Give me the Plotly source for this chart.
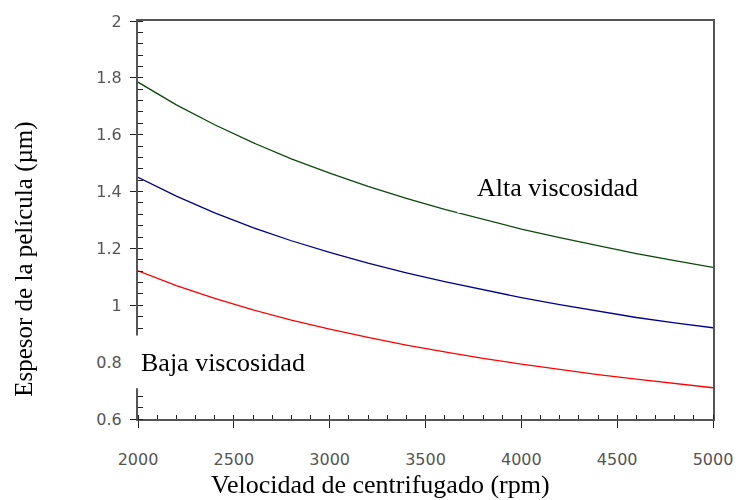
import plotly.graph_objects as go

# Spin speed (rpm) and film thickness (µm) for three resist viscosities
rpm = [2000, 2200, 2400, 2600, 2800, 3000, 3200, 3400, 3600, 3800, 4000, 4200, 4400, 4600, 4800, 5000]
espesor_alta = [1.785, 1.705, 1.635, 1.572, 1.515, 1.465, 1.418, 1.376, 1.337, 1.302, 1.268, 1.238, 1.209, 1.182, 1.157, 1.133]
espesor_media = [1.450, 1.384, 1.325, 1.273, 1.227, 1.186, 1.148, 1.114, 1.083, 1.054, 1.027, 1.002, 0.979, 0.957, 0.938, 0.921]
espesor_baja = [1.121, 1.069, 1.024, 0.984, 0.948, 0.916, 0.887, 0.860, 0.836, 0.813, 0.793, 0.774, 0.756, 0.740, 0.725, 0.710]

x_ticks = [2000, 2500, 3000, 3500, 4000, 4500, 5000]
x_labels = ["2000", "2500", "3000", "3500", "4000", "4500", "5000"]
y_ticks = [0.6, 0.8, 1.0, 1.2, 1.4, 1.6, 1.8, 2.0]
y_labels = ["0.6", "0.8", "1", "1.2", "1.4", "1.6", "1.8", "2"]

SERIF = "Liberation Serif, Times New Roman, serif"
SANS = "DejaVu Sans, Arial, sans-serif"

fig = go.Figure()
for ys, color in [(espesor_alta, "#0b4a0b"), (espesor_media, "#00008b"), (espesor_baja, "#ff0000")]:
    fig.add_trace(go.Scatter(x=rpm, y=ys, mode="lines", line=dict(color=color, width=1.3),
                             showlegend=False, hoverinfo="skip"))

# invisible trace that carries the overlay axes (inner part of the major ticks)
fig.add_trace(go.Scatter(x=[2000, 5000], y=[0.6, 2], mode="markers", opacity=0,
                         xaxis="x2", yaxis="y2", showlegend=False, hoverinfo="skip"))

axis_line = "#555555"
tick_col = "#222222"
fig.update_layout(
    width=745, height=500,
    margin=dict(l=138, r=22, t=19, b=81),
    paper_bgcolor="white", plot_bgcolor="white",
    xaxis=dict(range=[2000, 5000], tickvals=x_ticks, ticktext=x_labels,
               ticks="outside", ticklen=7, tickwidth=1, tickcolor=tick_col,
               minor=dict(ticks="inside", ticklen=4, tickwidth=1, tickcolor=tick_col,
                          tick0=2000, dtick=100, showgrid=False),
               showline=True, linecolor=axis_line, linewidth=2, mirror=True,
               showgrid=False, zeroline=False, ticklabelstandoff=18,
               tickfont=dict(family=SANS, size=16, color="#555")),
    yaxis=dict(range=[0.6, 2.0], tickvals=y_ticks,
               ticktext=[lab + "\u00a0" for lab in y_labels],
               ticks="outside", ticklen=6, tickwidth=1, tickcolor=tick_col,
               minor=dict(ticks="inside", ticklen=5, tickwidth=1, tickcolor=tick_col,
                          tick0=0.6, dtick=0.04, showgrid=False),
               showline=True, linecolor=axis_line, linewidth=2, mirror=True,
               showgrid=False, zeroline=False,
               tickfont=dict(family=SANS, size=16, color="#555")),
    xaxis2=dict(range=[2000, 5000], overlaying="x", anchor="y2", tickvals=x_ticks,
                ticks="inside", ticklen=4, tickwidth=1, tickcolor=tick_col,
                showticklabels=False, showgrid=False, zeroline=False, showline=False),
    yaxis2=dict(range=[0.6, 2.0], overlaying="y", anchor="x2", tickvals=y_ticks,
                ticks="inside", ticklen=5, tickwidth=1, tickcolor=tick_col,
                showticklabels=False, showgrid=False, zeroline=False, showline=False),
    shapes=[
        dict(type="rect", xref="paper", yref="paper", x0=-0.017, x1=0.3145,
             y0=0.0775, y1=0.21, fillcolor="white", line=dict(width=0), layer="above"),
        dict(type="rect", xref="paper", yref="paper", x0=0.5556, x1=0.906,
             y0=0.5175, y1=0.6475, fillcolor="white", line=dict(width=0), layer="above"),
    ],
    annotations=[
        dict(text="Baja viscosidad", xref="paper", yref="paper", x=0.004, y=0.1425,
             xanchor="left", yanchor="middle", showarrow=False, borderpad=0,
             font=dict(family=SERIF, size=26, color="black")),
        dict(text="Alta viscosidad", xref="paper", yref="paper", x=0.5880, y=0.5825,
             xanchor="left", yanchor="middle", showarrow=False, borderpad=0,
             font=dict(family=SERIF, size=26, color="black")),
        dict(text="Velocidad de centrifugado (rpm)", xref="paper", yref="paper",
             x=0.4222, y=-0.165, xanchor="center", yanchor="middle", showarrow=False,
             font=dict(family=SERIF, size=26, color="black")),
        dict(text="Espesor de la película (µm)", xref="paper", yref="paper",
             x=-0.1983, y=0.4025, xanchor="center", yanchor="middle", showarrow=False,
             textangle=-90, font=dict(family=SERIF, size=25, color="black")),
    ],
)

fig.write_html("out.html")
